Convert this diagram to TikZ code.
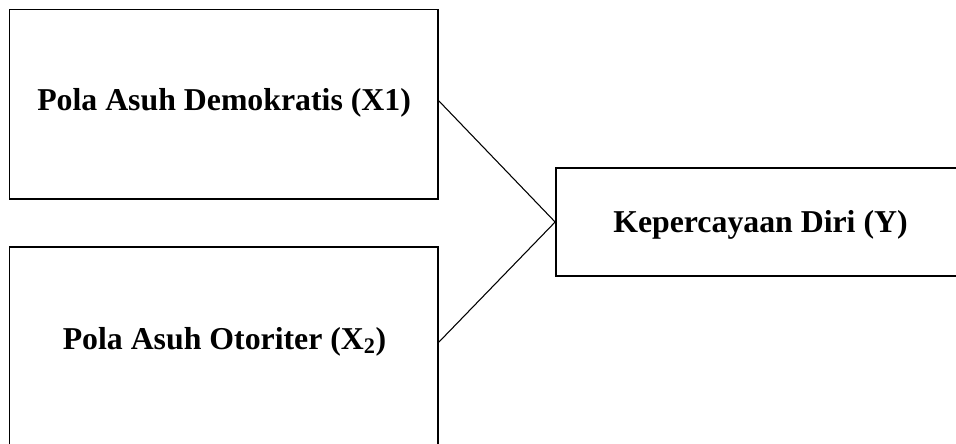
\documentclass[tikz,border=0pt]{standalone}
\usepackage{fontspec}
\setmainfont{Liberation Serif}
\begin{document}
\begin{tikzpicture}[x=0.75pt,y=-0.75pt,
  box/.style={draw=black, line width=1.3pt, fill=none, inner sep=0pt, rectangle},
  lbl/.style={inner sep=0pt, anchor=base west, font=\bfseries\fontsize{23.85pt}{28pt}\selectfont},
  link/.style={draw=black, line width=0.8pt}]
\useasboundingbox (0,0) rectangle (956,443);
\clip (0,0) rectangle (956,443);
\fill[white] (0,0) rectangle (956,443);
\node[box, minimum width=321.4pt, minimum height=142.1pt] (top) at (223.75,104.25) {};
\node[box, minimum width=321.4pt, minimum height=167.25pt] (bot) at (223.75,358.5) {};
\node[box, minimum width=318pt, minimum height=81pt] (rgt) at (768,222) {};
\node[lbl] (t1) at (37,110.5) {Pola Asuh Demokratis (X1)};
\node[lbl] (t2) at (62.5,349) {Pola Asuh Otoriter (X\textsubscript{2})};
\node[lbl] (t3) at (613,232.5) {Kepercayaan Diri (Y)};
\coordinate (p1) at (438,100);
\coordinate (p2) at (438,343);
\draw[link] (p1) -- (rgt.west);
\draw[link] (p2) -- (rgt.west);
\end{tikzpicture}
\end{document}
